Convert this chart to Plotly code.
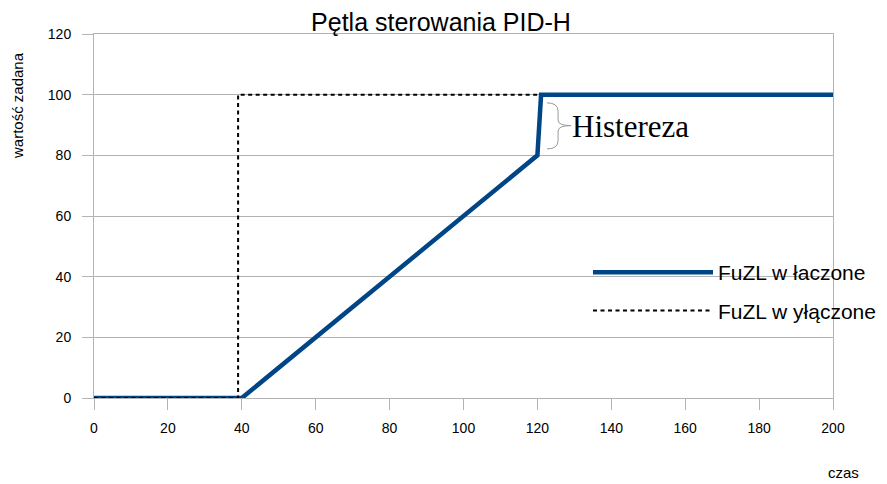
import plotly.graph_objects as go

# Data
on_x = [0, 40, 120, 121, 200]
on_y = [0, 0, 80, 100, 100]
off_x = [0, 39, 39, 120]
off_y = [0, 0, 100, 100]
x_ticks = list(range(0, 201, 20))
y_ticks = list(range(0, 121, 20))

title = "Pętla sterowania PID-H"
series_names = ["FuZL w łaczone", "FuZL w yłączone"]

# the page body has an 8px margin; positions below are in page pixels
OFF = 8
PL, PR, PT, PB = 94, 833, 34, 398  # plot area in page pixels
pw, ph = PR - PL, PB - PT
W, H = 900, 484 - OFF
L, T = PL - OFF, PT - OFF
R, B = W - L - pw, H - T - ph


def px_x(p):
    return (p - PL) / pw


def px_y(p):
    return (PB - p) / ph


fig = go.Figure()
fig.add_trace(go.Scatter(x=on_x, y=on_y, mode="lines", name=series_names[0],
                         line=dict(color="#004586", width=4.5), legendgroup="a"))
fig.add_trace(go.Scatter(x=off_x, y=off_y, mode="lines", name=series_names[1],
                         line=dict(color="#000000", width=2, dash="4px,3.5px"), legendgroup="b"))

# Brace for hysteresis
brace = ("M 122.6,97.3 Q 125.6,97.3 125.6,94.5 L 125.6,91.6 Q 125.6,89.8 129.1,89.8 "
         "Q 125.6,89.8 125.6,88.0 L 125.6,84.9 Q 125.6,82.1 122.6,82.1")
fig.add_shape(type="path", path=brace, xref="x", yref="y",
              line=dict(color="#999999", width=1))
fig.add_annotation(x=px_x(570), y=px_y(126), xref="paper", yref="paper", text="Histereza",
                   showarrow=False, xanchor="left", yanchor="middle",
                   font=dict(family="Liberation Serif", size=31, color="#000000"))
fig.add_annotation(x=px_x(843), y=px_y(472), xref="paper", yref="paper", text="czas",
                   showarrow=False, xanchor="center", yanchor="middle",
                   font=dict(family="Liberation Sans", size=15, color="#000000"))
fig.add_annotation(x=px_x(18), y=px_y(106), xref="paper", yref="paper", text="wartość zadana",
                   showarrow=False, xanchor="center", yanchor="middle", textangle=-90,
                   font=dict(family="Liberation Sans", size=15, color="#000000"))

axis_common = dict(showline=True, linecolor="#b3b3b3", linewidth=1, mirror=True,
                   ticks="outside", ticklen=11, tickcolor="#b3b3b3",
                   tickfont=dict(family="Liberation Sans", size=14, color="#000000"),
                   zeroline=False, automargin=False)

fig.update_layout(
    width=W, height=H,
    margin=dict(l=L, r=R, t=T, b=B),
    paper_bgcolor="white", plot_bgcolor="white",
    title=dict(text=title, x=(441 - OFF) / W, xanchor="center", y=1 - 5.5 / H,
               yanchor="top",
               font=dict(family="Liberation Sans", size=25, color="#000000")),
    xaxis=dict(range=[0, 200], tickvals=x_ticks, showgrid=False, ticklabelstandoff=6,
               **axis_common),
    yaxis=dict(range=[0, 120], tickvals=y_ticks, showgrid=True, gridcolor="#b3b3b3",
               ticklabelstandoff=8, **axis_common),
    legend=dict(x=px_x(588), y=px_y(252), xref="paper", yref="paper",
                xanchor="left", yanchor="top",
                bgcolor="rgba(0,0,0,0)", itemwidth=120, tracegroupgap=8,
                font=dict(family="Liberation Sans", size=21, color="#000000")),
    showlegend=True,
)
fig.write_html("out.html")
